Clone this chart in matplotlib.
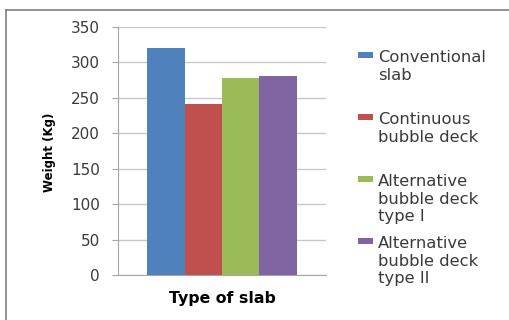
import matplotlib.pyplot as plt
from matplotlib.lines import Line2D
from matplotlib.patches import Rectangle

SERIES = ["Conventional\nslab", "Continuous\nbubble deck",
          "Alternative\nbubble deck\ntype I", "Alternative\nbubble deck\ntype II"]
WEIGHTS = [320, 241, 278, 281]
COLORS = ["#4f81bd", "#c0504d", "#9bbb59", "#8064a2"]
YTICKS = [0, 50, 100, 150, 200, 250, 300, 350]

plt.rcParams["font.family"] = ["DejaVu Sans"]

W, H = 510, 320
fig = plt.figure(figsize=(W / 100, H / 100), dpi=100)
fig.patch.set_facecolor("white")


def fx(px):
    return px / W


def fy(py):
    return 1 - py / H


# outer chart frame
fig.add_artist(Line2D([fx(6.5), fx(6.5)], [0, fy(10)], color="#808080", lw=1.2))
fig.add_artist(Line2D([fx(6.5), 1], [fy(10), fy(10)], color="#808080", lw=1.2))

ax = fig.add_axes([fx(118), fy(275), fx(208), 248.3 / H])
bw = 37.3 / 208
offsets = [(i - 1.5) * bw for i in range(len(WEIGHTS))]
for off, val, col in zip(offsets, WEIGHTS, COLORS):
    ax.bar(0.5 + off, val, width=bw, color=col, zorder=3)

ax.set_xlim(0, 1)
ax.set_ylim(0, 350)
ax.set_yticks(YTICKS)
ax.set_xticks([])
ax.grid(axis="y", color="#c8c8c8", lw=1, zorder=0)
for s in ["top", "right"]:
    ax.spines[s].set_visible(False)
ax.spines["left"].set_color("#a6a6a6")
ax.spines["bottom"].set_color("#a6a6a6")
ax.tick_params(axis="y", length=4, color="#a6a6a6", labelsize=11, pad=9,
               labelcolor="#3a3a3a")

ax.set_ylabel("Weight (Kg)", fontsize=8.5, fontweight="bold")
ax.yaxis.set_label_coords(fx(50), fy(152), transform=fig.transFigure)
ax.set_xlabel("Type of slab", fontsize=11.3, fontweight="bold")
ax.xaxis.set_label_coords(fx(222), fy(298), transform=fig.transFigure)
ax.xaxis.label.set_va("center")
ax.yaxis.label.set_va("center")

# legend: swatch beside the first line of each entry
entry_tops = [57, 119, 181, 243]
for lab, col, yc in zip(SERIES, COLORS, entry_tops):
    fig.add_artist(Rectangle((fx(358), fy(yc + 1)), fx(15), 6 / H,
                             facecolor=col, edgecolor="none"))
    fig.text(fx(378), fy(yc - 7), lab, fontsize=11.8, color="#3a3a3a",
             va="top", ha="left", linespacing=1.22)

fig.savefig("out.png", dpi=100)
